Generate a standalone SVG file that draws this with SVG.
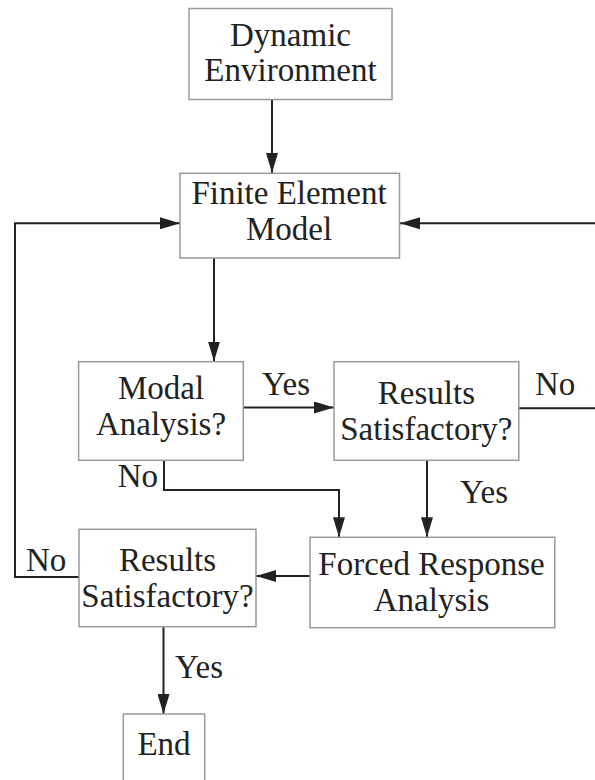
<svg xmlns="http://www.w3.org/2000/svg" width="595" height="780" viewBox="0 0 595 780">
<style>
.box{fill:#fff;stroke:#9a9a9a;stroke-width:1.5}
text{font-family:'Liberation Serif','DejaVu Serif',serif;font-size:33px;fill:#222}
.c{text-anchor:middle}
.ln{fill:none;stroke:#222;stroke-width:2}
</style>
<defs>
<marker id="ah" markerUnits="userSpaceOnUse" markerWidth="20" markerHeight="12" refX="20" refY="6" orient="auto">
<path d="M0,0 L20,6 L0,12 z" fill="#222"/>
</marker>
</defs>
<rect width="595" height="780" fill="#fff"/>
<g id="connectors">
<path class="ln" d="M272 99.5 V173" marker-end="url(#ah)"/>
<path class="ln" d="M214 258 V361.5" marker-end="url(#ah)"/>
<path class="ln" d="M243.3 407.5 H334" marker-end="url(#ah)"/>
<path class="ln" d="M164 460.3 V490 H339 V537.3" marker-end="url(#ah)"/>
<path class="ln" d="M427 460.3 V537.3" marker-end="url(#ah)"/>
<path class="ln" d="M518.8 408.3 H597 V223.3 H400" marker-end="url(#ah)"/>
<path class="ln" d="M310 576 H256" marker-end="url(#ah)"/>
<path class="ln" d="M79 577 H15 V223.3 H180" marker-end="url(#ah)"/>
<path class="ln" d="M163.5 627 V714" marker-end="url(#ah)"/>
<text x="262" y="395" font-family="Liberation Serif, serif">Yes</text>
<text x="535" y="395" font-family="Liberation Serif, serif">No</text>
<text x="158" y="486.7" text-anchor="end" font-family="Liberation Serif, serif">No</text>
<text x="460" y="503.3" font-family="Liberation Serif, serif">Yes</text>
<text x="26" y="570.7" font-family="Liberation Serif, serif">No</text>
<text x="175" y="678.3" font-family="Liberation Serif, serif">Yes</text>
</g>
<g id="dynamic">
<rect class="box" x="189" y="8.5" width="203" height="91"/>
<text class="c" x="290.5" y="46">Dynamic</text>
<text class="c" x="290.5" y="81">Environment</text>
</g>
<g id="fem">
<rect class="box" x="180" y="173.3" width="219.5" height="84.7"/>
<text class="c" x="289" y="204">Finite Element</text>
<text class="c" x="289" y="240">Model</text>
</g>
<g id="modal">
<rect class="box" x="78.6" y="361.7" width="164.7" height="98.6"/>
<text class="c" x="161" y="399">Modal</text>
<text class="c" x="161" y="435">Analysis?</text>
</g>
<g id="results1">
<rect class="box" x="334" y="361.7" width="184.8" height="98.6"/>
<text class="c" x="426.4" y="404.3">Results</text>
<text class="c" x="426.4" y="440">Satisfactory?</text>
</g>
<g id="forced">
<rect class="box" x="310" y="537.3" width="244.8" height="90.4"/>
<text class="c" x="431.5" y="575">Forced Response</text>
<text class="c" x="431.5" y="611">Analysis</text>
</g>
<g id="results2">
<rect class="box" x="79" y="529.3" width="177" height="97.4"/>
<text class="c" x="167.5" y="570.7">Results</text>
<text class="c" x="167.5" y="606.5">Satisfactory?</text>
</g>
<g id="end">
<rect class="box" x="123.3" y="714" width="81.4" height="70"/>
<text class="c" x="164" y="755">End</text>
</g>
</svg>
